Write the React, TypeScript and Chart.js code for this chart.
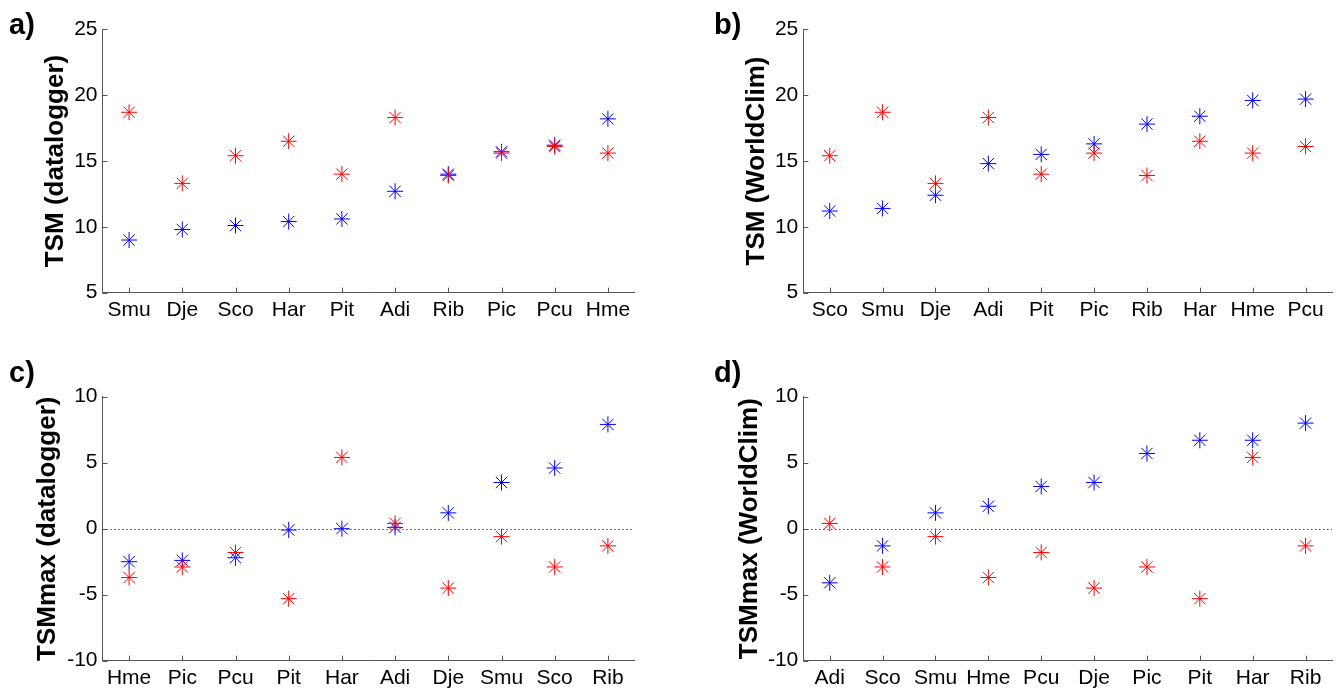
import React, { useEffect, useRef } from "react";
import { Chart, registerables } from "chart.js";

Chart.register(...registerables);

// ---------- data ----------
const catsA = ["Smu", "Dje", "Sco", "Har", "Pit", "Adi", "Rib", "Pic", "Pcu", "Hme"];
const redA = [18.7, 13.3, 15.4, 16.5, 14.0, 18.3, 13.9, 15.6, 16.1, 15.6];
const blueA = [9.0, 9.8, 10.1, 10.4, 10.6, 12.7, 14.0, 15.7, 16.2, 18.2];

const catsB = ["Sco", "Smu", "Dje", "Adi", "Pit", "Pic", "Rib", "Har", "Hme", "Pcu"];
const redB = [15.4, 18.7, 13.3, 18.3, 14.0, 15.6, 13.9, 16.5, 15.6, 16.1];
const blueB = [11.2, 11.4, 12.4, 14.8, 15.5, 16.3, 17.8, 18.4, 19.6, 19.7];

const catsC = ["Hme", "Pic", "Pcu", "Pit", "Har", "Adi", "Dje", "Smu", "Sco", "Rib"];
const redC = [-3.7, -2.9, -1.8, -5.3, 5.4, 0.4, -4.5, -0.6, -2.9, -1.3];
const blueC = [-2.5, -2.4, -2.2, -0.1, 0.0, 0.1, 1.2, 3.5, 4.6, 7.9];

const catsD = ["Adi", "Sco", "Smu", "Hme", "Pcu", "Dje", "Pic", "Pit", "Har", "Rib"];
const redD = [0.4, -2.9, -0.6, -3.7, -1.8, -4.5, -2.9, -5.3, 5.4, -1.3];
const blueD = [-4.1, -1.3, 1.2, 1.7, 3.2, 3.5, 5.7, 6.7, 6.7, 8.0];

const yRangeTop = [5, 25];
const yRangeBottom = [-10, 10];
const yStep = 5;

const titleA = "TSM (datalogger)";
const titleB = "TSM (WorldClim)";
const titleC = "TSMmax (datalogger)";
const titleD = "TSMmax (WorldClim)";

// ---------- styles ----------
const FONT = "'Liberation Sans', Arial, sans-serif";
const AXIS_COLOR = "#555555";

type Geo = {
  left: number; top: number; width: number; height: number;
  areaLeft: number; areaTop: number; areaRight: number; areaBottom: number;
  titlePad: number;
};

const innerTicks = {
  id: "innerTicks",
  beforeDatasetsDraw(chart: any, _args: any, opts: any) {
    const { ctx, chartArea, scales } = chart;
    const y = scales.y;
    const x = scales.x;
    ctx.save();
    if (opts && opts.zeroLine) {
      const py = Math.round(y.getPixelForValue(0)) + 0.5;
      ctx.strokeStyle = "#000000";
      ctx.lineWidth = 1;
      ctx.setLineDash([1, 3]);
      ctx.beginPath();
      ctx.moveTo(chartArea.left, py);
      ctx.lineTo(chartArea.right, py);
      ctx.stroke();
      ctx.setLineDash([]);
    }
    ctx.strokeStyle = AXIS_COLOR;
    ctx.lineWidth = 1;
    ctx.beginPath();
    y.ticks.forEach((t: any) => {
      const py = Math.round(y.getPixelForValue(t.value)) + 0.5;
      ctx.moveTo(chartArea.left, py);
      ctx.lineTo(chartArea.left + 5, py);
    });
    x.ticks.forEach((_t: any, i: number) => {
      const px = Math.round(x.getPixelForTick(i)) + 0.5;
      ctx.moveTo(px, chartArea.bottom);
      ctx.lineTo(px, chartArea.bottom - 5);
    });
    ctx.stroke();
    ctx.restore();
  },
};

function Panel(props: {
  labels: string[]; red: number[]; blue: number[]; range: number[];
  title: string; letter: string; zero: boolean; geo: Geo;
}) {
  const ref = useRef<HTMLCanvasElement>(null);
  const { labels, red, blue, range, title, letter, zero, geo } = props;
  useEffect(() => {
    if (!ref.current) return;
    const chart = new Chart(ref.current, {
      type: "line",
      data: {
        labels,
        datasets: [
          {
            data: red,
            borderColor: "#ff0000",
            backgroundColor: "#ff0000",
            showLine: false,
            pointStyle: "star",
            pointRadius: 8,
            pointBorderWidth: 1,
            order: 1,
          },
          {
            data: blue,
            borderColor: "#0000ff",
            backgroundColor: "#0000ff",
            showLine: false,
            pointStyle: "star",
            pointRadius: 8,
            pointBorderWidth: 1,
            order: 2,
          },
        ],
      },
      options: {
        responsive: false,
        maintainAspectRatio: false,
        animation: false,
        events: [],
        layout: {
          padding: { left: 0, top: geo.areaTop, right: geo.width - geo.areaRight, bottom: 0 },
        },
        plugins: {
          legend: { display: false },
          tooltip: { enabled: false },
          innerTicks: { zeroLine: zero },
        } as any,
        scales: {
          x: {
            type: "category",
            offset: true,
            grid: { display: false, drawTicks: false },
            border: { display: true, color: AXIS_COLOR, width: 1 },
            ticks: {
              color: "#000000",
              font: { family: FONT, size: 21 },
              padding: 5,
              autoSkip: false,
              maxRotation: 0,
              minRotation: 0,
            },
            afterFit: (s: any) => {
              s.height = geo.height - geo.areaBottom;
            },
          },
          y: {
            type: "linear",
            min: range[0],
            max: range[1],
            grid: { display: false, drawTicks: false },
            border: { display: true, color: AXIS_COLOR, width: 1 },
            ticks: {
              stepSize: yStep,
              color: "#000000",
              font: { family: FONT, size: 21 },
              padding: 5,
            },
            title: {
              display: true,
              text: title,
              color: "#000000",
              font: { family: FONT, size: 26, weight: "bold", lineHeight: 1 },
              padding: { top: geo.titlePad, bottom: 0 },
            },
            afterFit: (s: any) => {
              s.width = geo.areaLeft;
            },
          },
        },
      },
      plugins: [innerTicks],
    } as any);
    return () => chart.destroy();
  }, []);
  return (
    <div style={{ position: "absolute", left: geo.left, top: geo.top, width: geo.width, height: geo.height }}>
      <canvas ref={ref} width={geo.width} height={geo.height} style={{ width: geo.width, height: geo.height, display: "block" }} />
      <div
        style={{
          position: "absolute",
          left: letter === "a)" || letter === "c)" ? 9 : 44,
          top: letter === "a)" || letter === "b)" ? 10 : 18,
          font: `bold 29px ${FONT}`,
          lineHeight: "29px",
          color: "#000",
        }}
      >
        {letter}
      </div>
    </div>
  );
}

const geoA: Geo = { left: 0, top: 0, width: 670, height: 340, areaLeft: 102.5, areaTop: 29.3, areaRight: 634.5, areaBottom: 292.7, titlePad: 43 };
const geoB: Geo = { left: 670, top: 0, width: 673, height: 340, areaLeft: 133.3, areaTop: 29.3, areaRight: 662, areaBottom: 292.7, titlePad: 74 };
const geoC: Geo = { left: 0, top: 340, width: 670, height: 349, areaLeft: 102.5, areaTop: 56.7, areaRight: 634.5, areaBottom: 320.7, titlePad: 35 };
const geoD: Geo = { left: 670, top: 340, width: 673, height: 349, areaLeft: 133.3, areaTop: 56.7, areaRight: 662, areaBottom: 320.7, titlePad: 67 };

export default function App() {
  return (
    <div style={{ position: "absolute", left: 0, top: 0, width: 1343, height: 689, background: "#fff", overflow: "hidden" }}>
      <Panel labels={catsA} red={redA} blue={blueA} range={yRangeTop} title={titleA} letter="a)" zero={false} geo={geoA} />
      <Panel labels={catsB} red={redB} blue={blueB} range={yRangeTop} title={titleB} letter="b)" zero={false} geo={geoB} />
      <Panel labels={catsC} red={redC} blue={blueC} range={yRangeBottom} title={titleC} letter="c)" zero={true} geo={geoC} />
      <Panel labels={catsD} red={redD} blue={blueD} range={yRangeBottom} title={titleD} letter="d)" zero={true} geo={geoD} />
    </div>
  );
}
